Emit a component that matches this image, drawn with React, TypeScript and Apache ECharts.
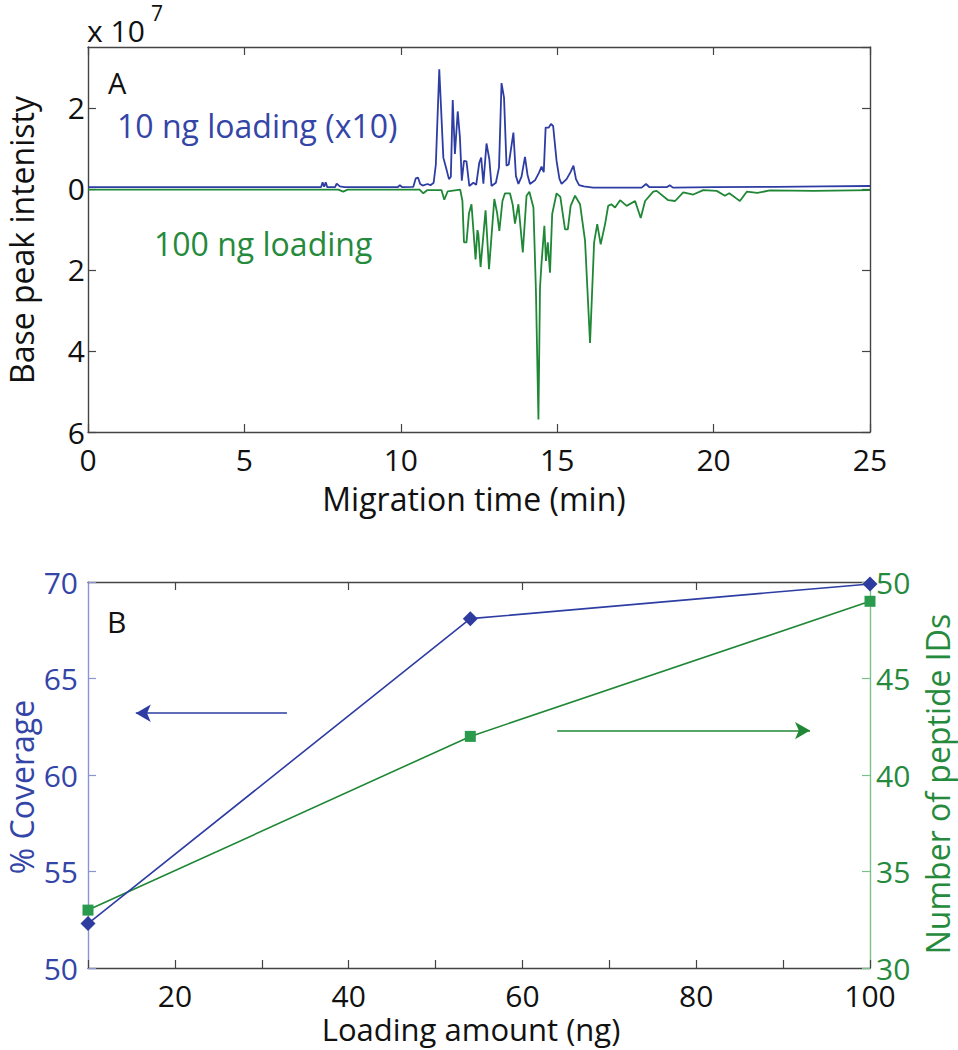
import React, { useEffect, useRef } from "react";
import * as echarts from "echarts";

// Panel A: base peak electropherograms (intensity in units of 1e7)
// 10 ng loading (x10), plotted upward
const blueTrace: [number, number][] = [
  [0, 0.04], [2, 0.04], [4, 0.04], [6, 0.04], [7.45, 0.04], [7.5, 0.16], [7.55, 0.05], [7.6, 0.16],
  [7.65, 0.04], [7.9, 0.04], [7.95, 0.13], [8.05, 0.06], [8.2, 0.04], [9.9, 0.04], [9.97, 0.09],
  [10.05, 0.04], [10.4, 0.05], [10.48, 0.26], [10.55, 0.28], [10.62, 0.12], [10.7, 0.08], [10.85, 0.12],
  [10.95, 0.09], [11.05, 0.15], [11.12, 0.6], [11.23, 2.95], [11.36, 0.77], [11.47, 0.45], [11.54, 0.24],
  [11.6, 0.3], [11.66, 2.19], [11.73, 0.86], [11.82, 1.91], [11.89, 1.27], [11.95, 0.2], [12.02, 0.69],
  [12.1, 0.68], [12.19, 0.07], [12.27, 0.12], [12.32, 0.15], [12.41, 0.1], [12.51, 0.65], [12.57, 0.77],
  [12.64, 0.13], [12.74, 1.12], [12.83, 0.73], [12.9, 0.07], [13.04, 0.15], [13.14, 0.53], [13.22, 2.61],
  [13.3, 2.25], [13.38, 0.57], [13.45, 0.6], [13.6, 1.39], [13.68, 0.32], [13.76, 0.12], [13.86, 0.3],
  [13.97, 0.79], [14.05, 0.35], [14.13, 0.12], [14.29, 0.21], [14.42, 0.4], [14.5, 0.55], [14.57, 0.41],
  [14.63, 1.51], [14.73, 1.51], [14.8, 1.6], [14.87, 1.55], [14.98, 0.69], [15.07, 0.25], [15.14, 0.12],
  [15.3, 0.24], [15.43, 0.42], [15.52, 0.57], [15.6, 0.24], [15.7, 0.09], [15.85, 0.06], [16.15, 0.03],
  [17.0, 0.03], [17.7, 0.03], [17.84, 0.12], [17.95, 0.04], [18.5, 0.04], [18.6, 0.09], [18.7, 0.03],
  [20, 0.04], [22, 0.05], [23.5, 0.06], [25, 0.07],
];

// 100 ng loading, plotted downward (values are positive intensities)
const greenTrace: [number, number][] = [
  [0, 0.02], [8.0, 0.02], [8.16, 0.07], [8.3, 0.02], [10.6, 0.02], [10.72, 0.11], [10.85, 0.03],
  [11.3, 0.03], [11.39, 0.27], [11.5, 0.06], [11.9, 0.02], [11.97, 0.3], [12.02, 1.32], [12.1, 1.32],
  [12.18, 0.6], [12.26, 0.38], [12.39, 1.74], [12.45, 1.02], [12.48, 1.12], [12.55, 1.93], [12.71, 0.53],
  [12.82, 1.98], [12.99, 0.25], [13.08, 0.6], [13.15, 1.04], [13.25, 0.3], [13.33, 0.11], [13.49, 0.11],
  [13.58, 0.4], [13.65, 0.86], [13.76, 0.38], [13.9, 1.57], [14.02, 0.17], [14.11, 0.07], [14.24, 0.46],
  [14.32, 2.52], [14.4, 5.69], [14.45, 2.44], [14.5, 1.82], [14.59, 0.91], [14.64, 1.78], [14.7, 1.32],
  [14.77, 2.07], [14.84, 0.62], [14.98, 0.11], [15.1, 0.2], [15.25, 1.0], [15.34, 1.0], [15.43, 0.42],
  [15.57, 0.17], [15.73, 0.38], [15.89, 1.28], [16.05, 3.8], [16.18, 1.32], [16.28, 0.87], [16.39, 1.37],
  [16.53, 0.87], [16.63, 0.42], [16.73, 0.38], [16.85, 0.46], [17.01, 0.28], [17.22, 0.42], [17.49, 0.3],
  [17.67, 0.72], [17.81, 0.3], [18.07, 0.07], [18.18, 0.05], [18.55, 0.28], [18.77, 0.3], [19.03, 0.09],
  [19.35, 0.14], [19.67, 0.03], [20.1, 0.05], [20.36, 0.17], [20.5, 0.11], [20.68, 0.21], [20.84, 0.3],
  [21.06, 0.07], [21.4, 0.1], [21.8, 0.04], [23.2, 0.05], [25, 0.03],
];

// Panel B
const loadingAmount = [10, 54, 100];
const coverage = [52.3, 68.1, 69.9];
const peptideIDs = [33, 42, 49];

// Annotation arrows (data coordinates)
const coverageArrow: [number, number][] = [[32.9, 63.2], [15.5, 63.2]];
const peptideArrow: [number, number][] = [[64, 42.3], [93.1, 42.3]];

const FONT = "'Open Sans', 'Noto Sans', sans-serif";
const BLUE = "#3445a8";
const BLUE_LINE = "#2e3da3";
const GREEN = "#258a3c";
const GREEN_LINE = "#1f8735";
const AXIS = "#444444";
const INK = "#111111";

export default function App() {
  const ref = useRef<HTMLDivElement>(null);

  useEffect(() => {
    const chart = echarts.init(ref.current!, null, { renderer: "svg" });
    const axisLine = (color: string) => ({ show: true, onZero: false, lineStyle: { color, width: 1.4 } });
    const tick = (color: string) => ({ show: true, inside: true, length: 8, lineStyle: { color, width: 1.2 } });
    const label = (color: string, extra: any = {}) => ({
      color,
      fontFamily: FONT,
      fontSize: 30,
      lineHeight: 30,
      ...extra,
    });

    const rot = Math.PI / 2;
    const txt = (x: number, y: number, text: string, fontSize: number, fill: string, align = "left", rotation = 0) => ({
      type: "text",
      x,
      y,
      rotation,
      silent: true,
      style: { text, fontSize, lineHeight: fontSize, fontFamily: FONT, fill, align, verticalAlign: "middle" },
    });

    chart.setOption({
      animation: false,
      backgroundColor: "#ffffff",
      grid: [
        { left: 88, top: 47, width: 782, height: 385 },
        { left: 88, top: 582, width: 782, height: 386 },
      ],
      xAxis: [
        {
          gridIndex: 0, type: "value", position: "bottom", min: 0, max: 25, interval: 5,
          axisLine: axisLine(AXIS), axisTick: tick(AXIS),
          axisLabel: label(INK, { margin: 12 }), splitLine: { show: false },
        },
        {
          gridIndex: 0, type: "value", position: "top", min: 0, max: 25, interval: 5,
          axisLine: axisLine(AXIS), axisTick: tick(AXIS),
          axisLabel: { show: false }, splitLine: { show: false },
        },
        {
          gridIndex: 1, type: "value", position: "bottom", min: 10, max: 100, interval: 10,
          axisLine: axisLine(AXIS), axisTick: tick(AXIS),
          axisLabel: label(INK, { margin: 12, customValues: [20, 40, 60, 80, 100] }),
          splitLine: { show: false },
        },
        {
          gridIndex: 1, type: "value", position: "top", min: 10, max: 100, interval: 10,
          axisLine: axisLine(AXIS), axisTick: { ...tick(AXIS), customValues: [20, 40, 60, 80] },
          axisLabel: { show: false }, splitLine: { show: false },
        },
      ],
      yAxis: [
        {
          gridIndex: 0, type: "value", position: "left", min: -6, max: 3.5, interval: 2,
          axisLine: axisLine(AXIS), axisTick: tick(AXIS),
          axisLabel: label(INK, {
            margin: 3, showMaxLabel: false, padding: [10, 0, 0, 0],
            formatter: (v: number) => String(Math.abs(v)),
          }),
          splitLine: { show: false },
        },
        {
          gridIndex: 0, type: "value", position: "right", min: -6, max: 3.5, interval: 2,
          axisLine: axisLine(AXIS), axisTick: tick(AXIS),
          axisLabel: { show: false }, splitLine: { show: false },
        },
        {
          gridIndex: 1, type: "value", position: "left", min: 50, max: 70, interval: 5,
          axisLine: axisLine("#8a94d0"), axisTick: tick("#8a94d0"),
          axisLabel: label(BLUE, { margin: 10, padding: [8, 0, 0, 0] }),
          splitLine: { show: false },
        },
        {
          gridIndex: 1, type: "value", position: "right", min: 30, max: 50, interval: 5,
          axisLine: axisLine("#7cc08a"), axisTick: tick("#7cc08a"),
          axisLabel: label(GREEN, { margin: 6, padding: [0, 0, 4, 0] }),
          splitLine: { show: false },
        },
      ],
      series: [
        {
          name: "100 ng loading", type: "line", xAxisIndex: 0, yAxisIndex: 0,
          data: greenTrace.map(([t, v]) => [t, -v]),
          showSymbol: false, lineStyle: { color: GREEN_LINE, width: 1.8 }, z: 2,
        },
        {
          name: "10 ng loading (x10)", type: "line", xAxisIndex: 0, yAxisIndex: 0,
          data: blueTrace,
          showSymbol: false, lineStyle: { color: BLUE_LINE, width: 1.8 }, z: 3,
        },
        {
          name: "Number of peptide IDs", type: "line", xAxisIndex: 2, yAxisIndex: 3,
          data: loadingAmount.map((x, i) => [x, peptideIDs[i]]),
          symbol: "rect", symbolSize: 11, clip: false,
          itemStyle: { color: "#2a9a4c" }, lineStyle: { color: GREEN_LINE, width: 1.6 }, z: 2,
          markLine: {
            silent: true, symbol: ["none", "arrow"], symbolSize: [13, 15],
            label: { show: false },
            lineStyle: { color: GREEN_LINE, width: 1.6, type: "solid" },
            data: [[{ coord: peptideArrow[0] }, { coord: peptideArrow[1] }]],
          },
        },
        {
          name: "% Coverage", type: "line", xAxisIndex: 2, yAxisIndex: 2,
          data: loadingAmount.map((x, i) => [x, coverage[i]]),
          symbol: "diamond", symbolSize: 15, clip: false,
          itemStyle: { color: "#2d3c9e" }, lineStyle: { color: BLUE_LINE, width: 1.6 }, z: 3,
          markLine: {
            silent: true, symbol: ["none", "arrow"], symbolSize: [13, 15],
            label: { show: false },
            lineStyle: { color: BLUE_LINE, width: 1.6, type: "solid" },
            data: [[{ coord: coverageArrow[0] }, { coord: coverageArrow[1] }]],
          },
        },
      ],
      graphic: [
        txt(87, 30, "x 10", 30, INK),
        txt(151, 13, "7", 21, INK),
        txt(108, 82, "A", 29, INK),
        txt(117, 125, "10 ng loading (x10)", 32, BLUE),
        txt(154, 243, "100 ng loading", 32, GREEN),
        txt(107, 621, "B", 30, INK),
        txt(21, 240, "Base peak intenisty", 32, INK, "center", rot),
        txt(474, 498, "Migration time (min)", 32, INK, "center"),
        txt(21, 787, "% Coverage", 32, BLUE, "center", rot),
        txt(937, 784, "Number of peptide IDs", 32, GREEN, "center", rot),
        txt(471, 1029, "Loading amount (ng)", 31, INK, "center"),
      ],
    });

    return () => chart.dispose();
  }, []);

  return (
    <div
      ref={ref}
      style={{ position: "absolute", left: 0, top: 0, width: 958, height: 1050, background: "#fff" }}
    />
  );
}
